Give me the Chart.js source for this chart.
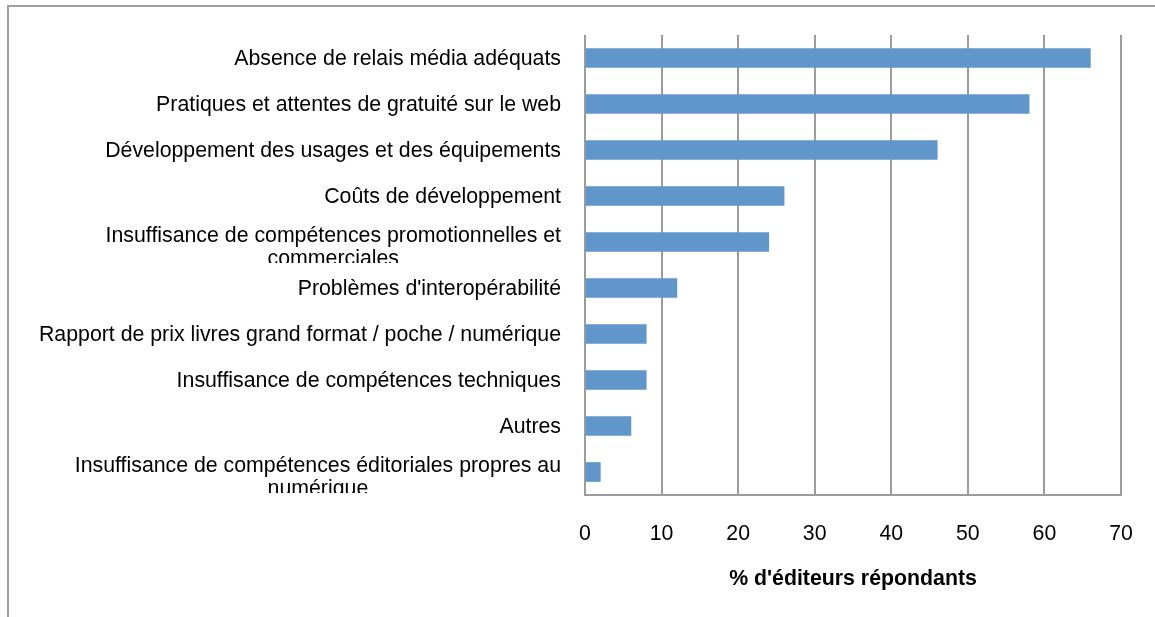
<!DOCTYPE html>
<html>
<head>
<meta charset="utf-8">
<script src="https://cdn.jsdelivr.net/npm/chart.js@4"></script>
<style>
body { margin: 0; background: #fff; }
#frame { position: absolute; left: 7px; top: 5px; width: 1170px; height: 700px; border: 2px solid #a0a0a0; }
#wrap { position: absolute; left: 0; top: 0; width: 1155px; height: 617px; }
</style>
</head>
<body>
<div id="frame"></div>
<div id="wrap"><canvas id="graph"></canvas></div>
<script>
// categories (top to bottom) and values in % of responding publishers
const categories = [
    "Absence de relais média adéquats",
    "Pratiques et attentes de gratuité sur le web",
    "Développement des usages et des équipements",
    "Coûts de développement",
    ["Insuffisance de compétences promotionnelles et", "commerciales"],
    "Problèmes d'interopérabilité",
    "Rapport de prix livres grand format / poche / numérique",
    "Insuffisance de compétences techniques",
    "Autres",
    ["Insuffisance de compétences éditoriales propres au", "numérique"]
];
const values = [66, 58, 46, 26, 24, 12, 8, 8, 6, 2];
const xTicks = [0, 10, 20, 30, 40, 50, 60, 70];
const axisTitle = "% d'éditeurs répondants";

const FONT = '"Liberation Sans", Arial, sans-serif';
Chart.defaults.font.family = FONT;
Chart.defaults.color = "#000";

// category labels: right aligned, wrapped lines centred and clipped to their band like the original
const yLabels = {
    id: "yLabels",
    afterDraw(chart) {
        const ctx = chart.ctx, y = chart.scales.y;
        const band = (y.bottom - y.top) / categories.length;
        const right = chart.chartArea.left - 24;
        ctx.save();
        ctx.font = "21.3px " + FONT;
        ctx.fillStyle = "#000";
        ctx.textBaseline = "middle";
        ctx.textAlign = "center";
        categories.forEach((lab, i) => {
            const lines = [].concat(lab);
            const cy = y.getPixelForTick(i);
            const w = Math.max(...lines.map(l => ctx.measureText(l).width));
            ctx.save();
            ctx.beginPath();
            ctx.rect(0, cy - band / 2, right + 10, band - 2);
            ctx.clip();
            if (lines.length == 1) {
                ctx.fillText(lines[0], right - w / 2, cy + 1);
            } else {
                lines.forEach((l, k) => ctx.fillText(l, right - w / 2, cy - 6 + k * 23));
            }
            ctx.restore();
        });
        ctx.restore();
    }
};

new Chart("graph", {
    type: "bar",
    data: {
        labels: categories,
        datasets: [{
            data: values,
            backgroundColor: "#6096c9",
            borderWidth: 0,
            barThickness: 19
        }]
    },
    options: {
        indexAxis: "y",
        responsive: true,
        maintainAspectRatio: false,
        animation: false,
        layout: { padding: { top: 35, right: 34, left: 0, bottom: 0 } },
        plugins: {
            legend: { display: false },
            tooltip: { enabled: false }
        },
        scales: {
            y: {
                type: "category",
                grid: { display: false },
                border: { display: false },
                ticks: { display: false },
                afterFit: s => { s.width = 585; }
            },
            x: {
                type: "linear",
                position: "bottom",
                min: 0,
                max: 70,
                afterBuildTicks: s => { s.ticks = xTicks.map(v => ({ value: v })); },
                grid: { color: "#9c9c9c", lineWidth: 2, drawTicks: false },
                border: { color: "#9c9c9c", width: 2 },
                ticks: { font: { size: 21.3 }, color: "#000", padding: 26 },
                title: {
                    display: true,
                    text: axisTitle,
                    font: { size: 21.3, weight: "bold" },
                    color: "#000",
                    padding: { top: 0, bottom: 25 }
                },
                afterFit: s => { s.height = 122; s.paddingLeft = 0; s.paddingRight = 0; }
            }
        }
    },
    plugins: [yLabels]
});
</script>
</body>
</html>
